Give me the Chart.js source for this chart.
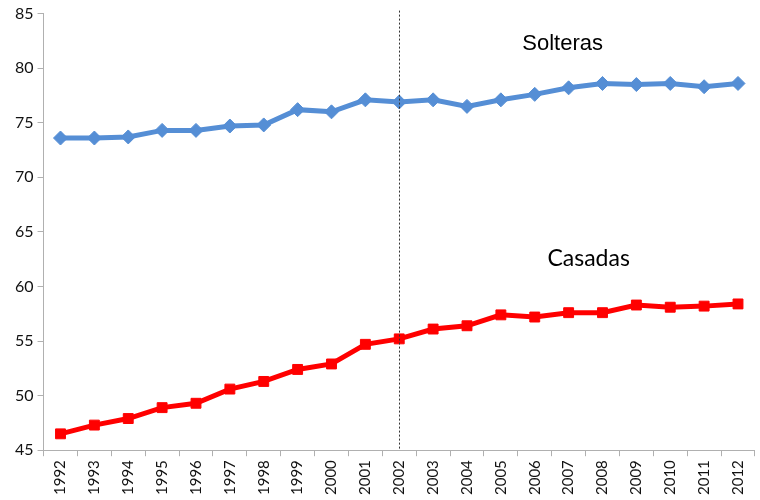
<!DOCTYPE html>
<html>
<head>
<meta charset="utf-8">
<script src="https://cdn.jsdelivr.net/npm/chart.js@4.4.0/dist/chart.umd.min.js"></script>
<style>
  html, body { margin: 0; padding: 0; background: #fff; overflow: hidden; }
  canvas { display: block; }
</style>
</head>
<body>
<canvas id="chart" width="760" height="500"></canvas>
<script>
// ---------------- DATA ----------------
const years = ["1992", "1993", "1994", "1995", "1996", "1997", "1998", "1999", "2000", "2001", "2002",
  "2003", "2004", "2005", "2006", "2007", "2008", "2009", "2010", "2011", "2012"];

const solteras = [73.6, 73.6, 73.7, 74.3, 74.3, 74.7, 74.8, 76.2, 76.0, 77.1, 76.9,
  77.1, 76.5, 77.1, 77.6, 78.2, 78.6, 78.5, 78.6, 78.3, 78.6];

const casadas = [46.5, 47.3, 47.9, 48.9, 49.3, 50.6, 51.3, 52.4, 52.9, 54.7, 55.2,
  56.1, 56.4, 57.4, 57.2, 57.6, 57.6, 58.3, 58.1, 58.2, 58.4];

const yTicks = [45, 50, 55, 60, 65, 70, 75, 80, 85];

// vertical marker year
const markerYear = "2002";

// text labels for the two series (year / value where the text sits)
const labelTexts = ["Solteras", "Casadas"];
const labelYears = ["2007", "2007"];
const labelValues = [82.2, 62.6];

// ---------------- PLUGINS ----------------
const markerLine = {
  id: "markerLine",
  afterDatasetsDraw(chart) {
    const { ctx, chartArea, scales } = chart;
    const x = Math.round(scales.x.getPixelForValue(years.indexOf(markerYear))) + 0.5;
    ctx.save();
    ctx.strokeStyle = "#333";
    ctx.lineWidth = 1;
    ctx.setLineDash([2, 2]);
    ctx.beginPath();
    ctx.moveTo(x, chartArea.top - 3);
    ctx.lineTo(x, chartArea.bottom);
    ctx.stroke();
    ctx.restore();
  }
};

const seriesText = {
  id: "seriesText",
  afterDraw(chart) {
    const { ctx, scales } = chart;
    const fonts = ["22px 'Liberation Sans'", "23px Lato"];
    const shifts = [-6, 20];
    ctx.save();
    ctx.fillStyle = "#000";
    ctx.textAlign = "center";
    ctx.textBaseline = "middle";
    labelTexts.forEach((t, i) => {
      const x = scales.x.getPixelForValue(years.indexOf(labelYears[i]));
      const y = scales.y.getPixelForValue(labelValues[i]);
      ctx.font = fonts[i];
      ctx.fillText(t, x + shifts[i], y);
    });
    ctx.restore();
  }
};

// ---------------- CHART ----------------
new Chart(document.getElementById("chart"), {
  type: "line",
  data: {
    labels: years,
    datasets: [
      {
        label: "Solteras",
        data: solteras,
        borderColor: "#558ED5",
        backgroundColor: "#558ED5",
        borderWidth: 5,
        pointStyle: "rectRot",
        pointRadius: 7,
        pointBorderWidth: 1,
        tension: 0
      },
      {
        label: "Casadas",
        data: casadas,
        borderColor: "#FF0000",
        backgroundColor: "#FF0000",
        borderWidth: 5,
        pointStyle: "rect",
        pointRadius: 7,
        pointBorderWidth: 1,
        tension: 0
      }
    ]
  },
  options: {
    responsive: false,
    animation: false,
    layout: { autoPadding: false, padding: { top: 13, right: -8, left: 11, bottom: 1 } },
    plugins: {
      legend: { display: false },
      tooltip: { enabled: false }
    },
    scales: {
      x: {
        offset: true,
        border: { color: "#b0b0b0", width: 1 },
        grid: { drawOnChartArea: false, drawTicks: true, tickLength: 6, color: "#b0b0b0", offset: true },
        ticks: {
          minRotation: 90,
          maxRotation: 90,
          autoSkip: false,
          color: "#111",
          font: { family: "Lato", size: 15 },
          padding: 4
        }
      },
      y: {
        min: 45,
        max: 85,
        afterBuildTicks(scale) { scale.ticks = yTicks.map(v => ({ value: v })); },
        border: { color: "#b0b0b0", width: 1 },
        grid: { drawOnChartArea: false, drawTicks: true, tickLength: 6, color: "#b0b0b0" },
        ticks: {
          color: "#111",
          font: { family: "Lato", size: 16 },
          padding: 4
        }
      }
    }
  },
  plugins: [markerLine, seriesText]
});
</script>
</body>
</html>
